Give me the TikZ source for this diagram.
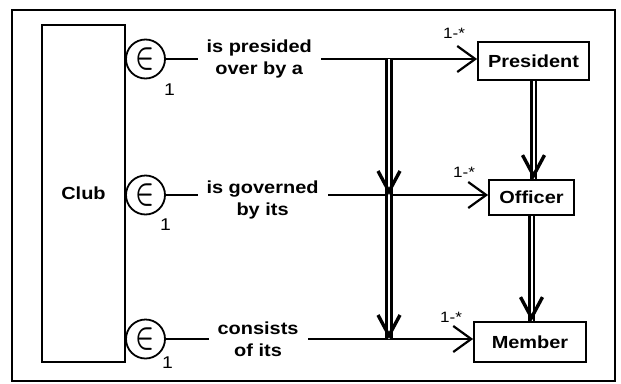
\documentclass[tikz,border=0pt]{standalone}
\usepackage{amsmath}
\usepackage{fontspec}
\setmainfont{Liberation Sans}[FakeStretch=1.14]
\usetikzlibrary{arrows.meta,calc}
\begin{document}
\begin{tikzpicture}[x=1pt,y=-1pt,
  frame/.style={draw, line width=1.6pt, inner sep=0pt},
  entity/.style={draw, line width=1.8pt, inner sep=0pt, font=\fontsize{17.5}{22}\selectfont\bfseries},
  memb/.style={draw, circle, line width=1.8pt, inner sep=0pt, minimum size=39pt},
  conn/.style={line width=1.7pt, -{Straight Barb[length=18pt, width=26pt, line width=2.2pt]}},
  lbl/.style={fill=white, align=center, inner xsep=9pt, inner ysep=0pt, pos=0.3, font=\fontsize{17.5}{22}\selectfont\bfseries},
  one/.style={inner sep=0pt, font=\fontsize{17}{17}\selectfont},
  mult/.style={inner sep=0pt, font=\fontsize{15}{15}\selectfont},
  dbl/.style={double, double distance=2pt, line width=2.6pt},
  vhead/.style={line width=3.4pt, line join=miter, line cap=butt}
]
\useasboundingbox (0,0) rectangle (621,383);
\node[frame, minimum width=603pt, minimum height=371pt] (fr) at (313.5,195.5) {};

\node[entity, minimum width=83pt, minimum height=337pt] (club) at (83.5,193.5) {Club};
\node[entity, minimum width=111pt, minimum height=38pt] (pres) at (533.5,61) {President};
\node[entity, minimum width=85pt, minimum height=35pt] (off) at (531.5,197.5) {Officer};
\node[entity, minimum width=112pt, minimum height=40pt] (mem) at (530,342) {Member};

\newcommand{\elem}{\scalebox{1.0}[1.35]{\fontsize{25}{25}\selectfont$\boldsymbol{\in}$}}
\node[memb] (c1) at (145.5,59) {\elem};
\node[memb] (c2) at (145.5,195) {\elem};
\node[memb] (c3) at (145.5,339) {\elem};

\node[one] (o1) at ($(c1)+(24,31)$) {1};
\node[one] (o2) at ($(c2)+(20,30)$) {1};
\node[one] (o3) at ($(c3)+(22,24)$) {1};

\draw[conn] (c1.east) -- node[lbl] {is presided\\over by a} (c1.east -| pres.west);
\draw[conn] (c2.east) -- node[lbl, yshift=-5pt] {is governed\\by its} (c2.east -| off.west);
\draw[conn] (c3.east) -- node[lbl] {consists\\of its} (c3.east -| mem.west);

\node[mult] (m1) at ($(pres.west)+(-23,-28)$) {1-*};
\node[mult] (m2) at ($(off.west)+(-24,-25)$) {1-*};
\node[mult] (m3) at ($(mem.west)+(-22,-25)$) {1-*};

\coordinate (j1) at (389,59);
\coordinate (j2) at (389,195);
\coordinate (j3) at (389,339);
\coordinate (t1) at (pres.south |- off.north);
\coordinate (t2) at (off.south |- mem.north);

\draw[dbl] (j1) -- (j2);
\draw[dbl] (j2) -- (j3);
\draw[dbl] (pres.south) -- (t1);
\draw[dbl] (off.south) -- (t2);

\foreach \t in {j2,j3,t1,t2}{
  \draw[vhead] ($(\t)+(-11,-24)$) -- ($(\t)+(0,-3.5)$) -- ($(\t)+(11,-24)$);
}
\end{tikzpicture}
\end{document}
